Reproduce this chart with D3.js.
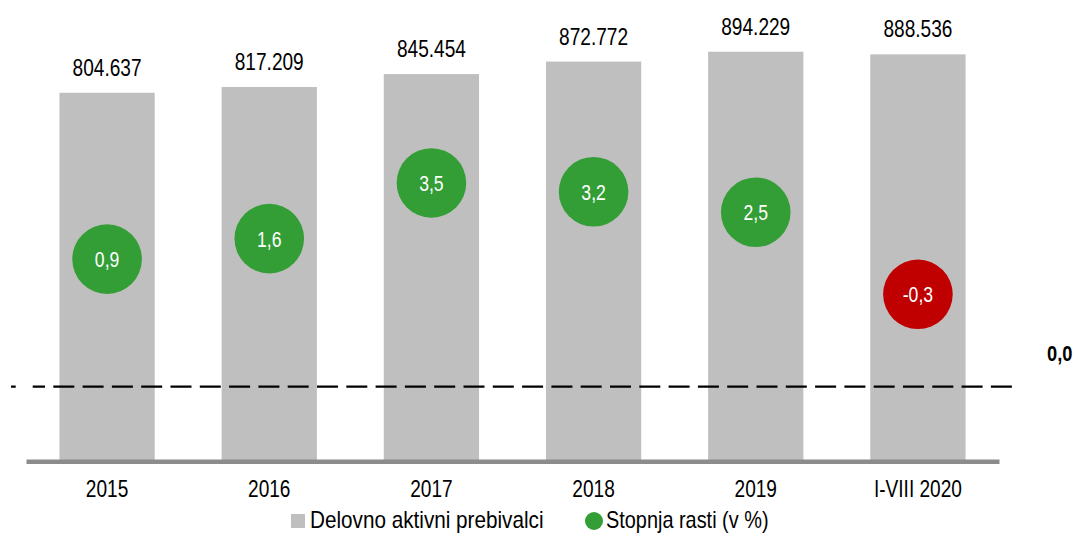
<!DOCTYPE html>
<html>
<head>
<meta charset="utf-8">
<script src="https://cdn.jsdelivr.net/npm/d3@7"></script>
<style>
  body { margin: 0; background: #fff; }
  svg text { font-family: "Liberation Sans Narrow", "Arial Narrow", "Liberation Sans", Arial, sans-serif; }
</style>
</head>
<body>
<div id="container"></div>
<script>
// categories and values
var years = ["2015", "2016", "2017", "2018", "2019", "I-VIII 2020"];
var employed = [804637, 817209, 845454, 872772, 894229, 888536];
var growth = [0.9, 1.6, 3.5, 3.2, 2.5, -0.3];
var refLevel = -3.45;   // dashed reference line, on the growth axis
var refLabel = "0,0";
var legendLabels = ["Delovno aktivni prebivalci", "Stopnja rasti (v %)"];

var width = 1077, height = 534;
var narrowX = 0.83;   // no narrow font installed, squeeze the regular one

var svg = d3.select("#container")
    .append("svg")
    .attr("width", width)
    .attr("height", height);

var x = d3.scaleBand()
    .domain(years)
    .range([26, 999])
    .paddingInner(0.4125)
    .paddingOuter(0.20625);

var y = d3.scaleLinear()
    .domain([0, 1000000])
    .range([461.3, 3.3]);

var y2 = d3.scaleLinear()
    .domain([-6, 10])
    .range([461.3, -7.5]);

var fmtInt = function(v) { return d3.format(",")(v).replace(/,/g, "."); };
var fmtPct = function(v) { return d3.format(".1f")(v).replace(".", ",").replace("\u2212", "-"); };

function place(px, py, sx) {
    return "translate(" + px + "," + py + ") scale(" + sx + ",1)";
}

// bars
svg.append("g")
    .selectAll("rect")
    .data(employed)
    .enter().append("rect")
    .attr("x", function(d, i) { return x(years[i]); })
    .attr("y", function(d) { return y(d); })
    .attr("width", x.bandwidth())
    .attr("height", function(d) { return y(0) - y(d); })
    .attr("fill", "#bfbfbf");

// bar labels
svg.append("g")
    .selectAll("text")
    .data(employed)
    .enter().append("text")
    .attr("transform", function(d, i) {
        return place(x(years[i]) + x.bandwidth() / 2, y(d) - 17, narrowX);
    })
    .attr("text-anchor", "middle")
    .attr("font-size", 23)
    .attr("fill", "#000")
    .text(fmtInt);

// dashed reference line
var yRef = y2(refLevel);
svg.append("line")
    .attr("x1", 11).attr("x2", 45)
    .attr("y1", yRef).attr("y2", yRef)
    .attr("stroke", "#000")
    .attr("stroke-width", 2.3)
    .attr("stroke-dasharray", "4.7,17,12.3,100");
svg.append("line")
    .attr("x1", 53.3).attr("x2", 1013)
    .attr("y1", yRef).attr("y2", yRef)
    .attr("stroke", "#000")
    .attr("stroke-width", 2.3)
    .attr("stroke-dasharray", "21,8.3");
svg.append("text")
    .attr("transform", place(1047, yRef - 26, narrowX))
    .attr("font-size", 22)
    .attr("font-weight", "bold")
    .attr("fill", "#000")
    .text(refLabel);

// x axis
var xAxis = svg.append("g")
    .attr("transform", "translate(0," + y(0) + ")")
    .attr("font-family", null)
    .call(d3.axisBottom(x).tickSize(0).tickPadding(19));
xAxis.select(".domain")
    .attr("stroke", "#8c8c8c")
    .attr("stroke-width", 4.5);
xAxis.selectAll(".tick text")
    .attr("font-size", 23)
    .attr("fill", "#000")
    .attr("transform", "scale(" + narrowX + ",1)");

// growth bubbles
var bubbles = svg.append("g")
    .selectAll("g")
    .data(growth)
    .enter().append("g")
    .attr("transform", function(d, i) {
        return "translate(" + (x(years[i]) + x.bandwidth() / 2) + "," + y2(d) + ")";
    });
bubbles.append("circle")
    .attr("r", 34.8)
    .attr("fill", function(d) { return d < 0 ? "#c00000" : "#339e35"; });
bubbles.append("text")
    .attr("transform", place(0, 8, 0.8))
    .attr("text-anchor", "middle")
    .attr("font-size", 22)
    .attr("fill", "#fff")
    .text(fmtPct);

// legend
var legend = svg.append("g");
legend.append("rect")
    .attr("x", 291).attr("y", 514)
    .attr("width", 14).attr("height", 14)
    .attr("fill", "#bfbfbf");
legend.append("text")
    .attr("transform", place(310, 528, 0.9))
    .attr("font-size", 23)
    .text(legendLabels[0]);
legend.append("circle")
    .attr("cx", 594).attr("cy", 521)
    .attr("r", 9)
    .attr("fill", "#339e35");
legend.append("text")
    .attr("transform", place(606, 528, 0.865))
    .attr("font-size", 23)
    .text(legendLabels[1]);
</script>
</body>
</html>
